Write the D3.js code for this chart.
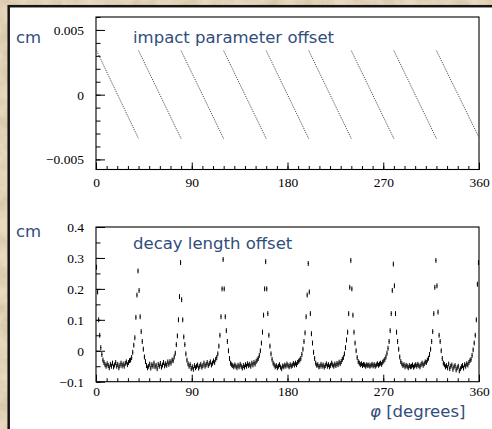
<!DOCTYPE html>
<html>
<head>
<meta charset="utf-8">
<script src="https://d3js.org/d3.v7.min.js"></script>
<style>
body { margin: 0; background: #e6d6ba; }
svg { display: block; }
</style>
</head>
<body>
<svg id="chart" width="492" height="429"></svg>
<script>
// Axis ticks and labels
var phiTicks = [0, 90, 180, 270, 360];
var ipTicks = [-0.005, 0, 0.005];
var ipTickLabels = ["\u22120.005", "0", "0.005"];
var dlTicks = [-0.1, 0, 0.1, 0.2, 0.3, 0.4];
var dlTickLabels = ["\u22120.1", "0", "0.1", "0.2", "0.3", "0.4"];

// Impact parameter offset: one falling segment per 40 degree sector
var ipStartPhi = [0, 40, 80, 120, 160, 200, 240, 280, 320];
var ipEndPhi = [40, 80, 120, 160, 200, 240, 280, 320, 360];
var ipStartVal = [0.0035, 0.0034, 0.0034, 0.0034, 0.0034, 0.0034, 0.0034, 0.0034, 0.0034];
var ipEndVal = [-0.0034, -0.0034, -0.0034, -0.0034, -0.0034, -0.0034, -0.0034, -0.0034, -0.0033];

// Decay length offset, 1 degree bins (one row per 40 degree sector)
var binWidth = 1;
var binErr = 0.008;
var decayOffset = [
  0.27, 0.19, 0.10, 0.05, 0.01, -0.012, -0.03, -0.038, -0.045, -0.05, -0.042, -0.048, -0.055, -0.044, -0.05, -0.04, -0.052, -0.046, -0.038, -0.05, -0.044, -0.055, -0.047, -0.04, -0.049, -0.043, -0.05, -0.041, -0.036, -0.045, -0.038, -0.032, -0.03, -0.022, -0.005, 0.018, 0.042, 0.108, 0.18, 0.258,
  0.195, 0.11, 0.062, 0.03, 0.005, -0.02, -0.035, -0.048, -0.055, -0.05, -0.043, -0.056, -0.045, -0.05, -0.04, -0.052, -0.047, -0.058, -0.044, -0.05, -0.041, -0.053, -0.046, -0.038, -0.049, -0.042, -0.047, -0.036, -0.044, -0.035, -0.04, -0.03, -0.032, -0.02, -0.008, 0.02, 0.048, 0.1, 0.175, 0.285,
  0.165, 0.1, 0.045, 0.02, -0.01, -0.03, -0.042, -0.05, -0.045, -0.058, -0.052, -0.06, -0.048, -0.055, -0.05, -0.046, -0.056, -0.05, -0.044, -0.053, -0.048, -0.04, -0.05, -0.045, -0.038, -0.048, -0.042, -0.036, -0.046, -0.04, -0.033, -0.038, -0.028, -0.022, -0.01, 0.015, 0.05, 0.11, 0.2, 0.295,
  0.2, 0.11, 0.065, 0.03, 0.0, -0.025, -0.04, -0.045, -0.048, -0.052, -0.046, -0.05, -0.055, -0.047, -0.052, -0.044, -0.05, -0.056, -0.048, -0.053, -0.045, -0.05, -0.042, -0.048, -0.044, -0.05, -0.04, -0.046, -0.038, -0.043, -0.035, -0.03, -0.025, -0.015, 0.0, 0.025, 0.06, 0.115, 0.2, 0.288,
  0.2, 0.12, 0.05, 0.015, -0.01, -0.028, -0.04, -0.046, -0.052, -0.048, -0.055, -0.05, -0.045, -0.053, -0.058, -0.049, -0.052, -0.046, -0.05, -0.043, -0.048, -0.052, -0.045, -0.05, -0.047, -0.041, -0.046, -0.04, -0.045, -0.038, -0.034, -0.03, -0.025, -0.012, 0.005, 0.03, 0.058, 0.11, 0.18, 0.282,
  0.19, 0.12, 0.055, 0.025, -0.005, -0.025, -0.04, -0.047, -0.045, -0.052, -0.05, -0.044, -0.05, -0.046, -0.053, -0.048, -0.042, -0.05, -0.045, -0.052, -0.047, -0.04, -0.046, -0.05, -0.043, -0.048, -0.041, -0.045, -0.037, -0.042, -0.035, -0.028, -0.022, -0.01, 0.01, 0.035, 0.06, 0.12, 0.205, 0.292,
  0.2, 0.115, 0.06, 0.025, 0.0, -0.022, -0.035, -0.04, -0.045, -0.042, -0.048, -0.044, -0.046, -0.05, -0.045, -0.048, -0.046, -0.05, -0.047, -0.044, -0.049, -0.045, -0.05, -0.046, -0.042, -0.047, -0.043, -0.04, -0.044, -0.037, -0.033, -0.028, -0.02, -0.008, 0.008, 0.03, 0.065, 0.12, 0.195, 0.28,
  0.21, 0.12, 0.06, 0.03, 0.005, -0.02, -0.035, -0.042, -0.048, -0.045, -0.052, -0.047, -0.05, -0.055, -0.048, -0.052, -0.05, -0.046, -0.053, -0.049, -0.045, -0.05, -0.044, -0.048, -0.052, -0.045, -0.04, -0.047, -0.042, -0.036, -0.038, -0.03, -0.024, -0.012, 0.005, 0.03, 0.062, 0.12, 0.205, 0.292,
  0.21, 0.125, 0.05, 0.03, 0.0, -0.025, -0.04, -0.045, -0.052, -0.048, -0.055, -0.043, -0.058, -0.05, -0.046, -0.06, -0.052, -0.048, -0.062, -0.055, -0.05, -0.065, -0.058, -0.052, -0.048, -0.056, -0.045, -0.05, -0.042, -0.046, -0.038, -0.032, -0.028, -0.015, 0.003, 0.025, 0.05, 0.1, 0.215, 0.285
];

var blue = "#304d7c";
var svg = d3.select("#chart");

// Parchment background
var filt = svg.append("defs").append("filter").attr("id", "paper")
    .attr("x", 0).attr("y", 0).attr("width", "100%").attr("height", "100%");
filt.append("feTurbulence").attr("type", "fractalNoise")
    .attr("baseFrequency", 0.06).attr("numOctaves", 4).attr("seed", 7);
filt.append("feColorMatrix").attr("type", "matrix")
    .attr("values", "0 0 0 0 0.55  0 0 0 0 0.42  0 0 0 0 0.26  0.9 0 0 0 -0.3");
svg.append("rect").attr("width", 492).attr("height", 429).attr("fill", "#e8d9bf");
svg.append("rect").attr("width", 492).attr("height", 429).attr("filter", "url(#paper)");

// White slide panel
svg.append("rect")
    .attr("x", 8.7).attr("y", 6.2).attr("width", 500).attr("height", 440)
    .attr("fill", "#fff").attr("stroke", "#151515").attr("stroke-width", 2.5);

var x = d3.scaleLinear().domain([0, 360]).range([96, 479]);
var yIp = d3.scaleLinear().domain([-0.00578, 0.006]).range([169.5, 17]);
var yDl = d3.scaleLinear().domain([-0.1, 0.4]).range([381.7, 227]);

function styleAxis(g) {
    g.select(".domain").remove();
    g.selectAll(".tick line").attr("stroke", "#000").attr("stroke-width", 1);
    g.selectAll(".tick text")
        .attr("fill", "#000")
        .style("font-family", "'Liberation Serif', 'Times New Roman', serif")
        .style("font-size", "13.5px");
}

function drawFrame(y, yTicks, yLabels, yMinor, labelPad) {
    var y0 = y.range()[0];
    var G = svg.append("g");
    // minor ticks
    G.append("g").attr("transform", "translate(0," + y0 + ")")
        .call(d3.axisBottom(x).tickValues(x.ticks(36)).tickSize(-3.5).tickFormat(""))
        .call(styleAxis);
    G.append("g").attr("transform", "translate(96,0)")
        .call(d3.axisLeft(y).tickValues(yMinor).tickSize(-4.5).tickFormat(""))
        .call(styleAxis);
    // major ticks
    G.append("g").attr("transform", "translate(0," + y0 + ")")
        .call(d3.axisBottom(x).tickValues(phiTicks).tickSize(-7).tickPadding(labelPad))
        .call(styleAxis);
    G.append("g").attr("transform", "translate(96,0)")
        .call(d3.axisLeft(y).tickValues(yTicks).tickSize(-9).tickPadding(12)
            .tickFormat(function (d, i) { return yLabels[i]; }))
        .call(styleAxis);
    // frame
    G.append("rect")
        .attr("x", x.range()[0]).attr("y", y.range()[1])
        .attr("width", x.range()[1] - x.range()[0])
        .attr("height", y.range()[0] - y.range()[1])
        .attr("fill", "none").attr("stroke", "#000").attr("stroke-width", 1.1);
}

drawFrame(yIp, ipTicks, ipTickLabels, d3.range(-5, 7).map(function (i) { return i / 1000; }), 8);
drawFrame(yDl, dlTicks, dlTickLabels, d3.range(-2, 9).map(function (i) { return i / 20; }), 5);

// Impact parameter offset segments
svg.append("g").selectAll("line")
    .data(d3.range(ipStartPhi.length))
    .enter().append("line")
    .attr("x1", function (i) { return x(ipStartPhi[i]); })
    .attr("y1", function (i) { return yIp(ipStartVal[i]); })
    .attr("x2", function (i) { return x(ipEndPhi[i]); })
    .attr("y2", function (i) { return yIp(ipEndVal[i]); })
    .attr("stroke", "#3a3a3a")
    .attr("stroke-width", 1)
    .attr("stroke-dasharray", "1,1.1");

// Decay length offset bins with error bars
var bins = svg.append("g").selectAll("g.bin")
    .data(decayOffset)
    .enter().append("g").classed("bin", true);
bins.append("line")
    .attr("x1", function (d, i) { return x((i + 0.5) * binWidth); })
    .attr("x2", function (d, i) { return x((i + 0.5) * binWidth); })
    .attr("y1", function (d) { return yDl(d - binErr); })
    .attr("y2", function (d) { return yDl(d + binErr); })
    .attr("stroke", "#000").attr("stroke-width", 1);
bins.append("line")
    .attr("x1", function (d, i) { return x(i * binWidth); })
    .attr("x2", function (d, i) { return x((i + 1) * binWidth); })
    .attr("y1", function (d) { return yDl(d); })
    .attr("y2", function (d) { return yDl(d); })
    .attr("stroke", "#000").attr("stroke-width", 1);

// Texts
var font = "'DejaVu Sans', Verdana, sans-serif";
function label(tx, ty, str) {
    return svg.append("text").attr("x", tx).attr("y", ty)
        .attr("fill", blue).style("font-family", font).style("font-size", "16.5px")
        .text(str);
}
label(16, 42.5, "cm");
label(133, 42.5, "impact parameter offset");
label(16, 237, "cm");
label(133, 249, "decay length offset");
var phiLab = label(370, 417, "");
phiLab.append("tspan").style("font-style", "italic").text("\u03c6");
phiLab.append("tspan").text(" [degrees]");
</script>
</body>
</html>
